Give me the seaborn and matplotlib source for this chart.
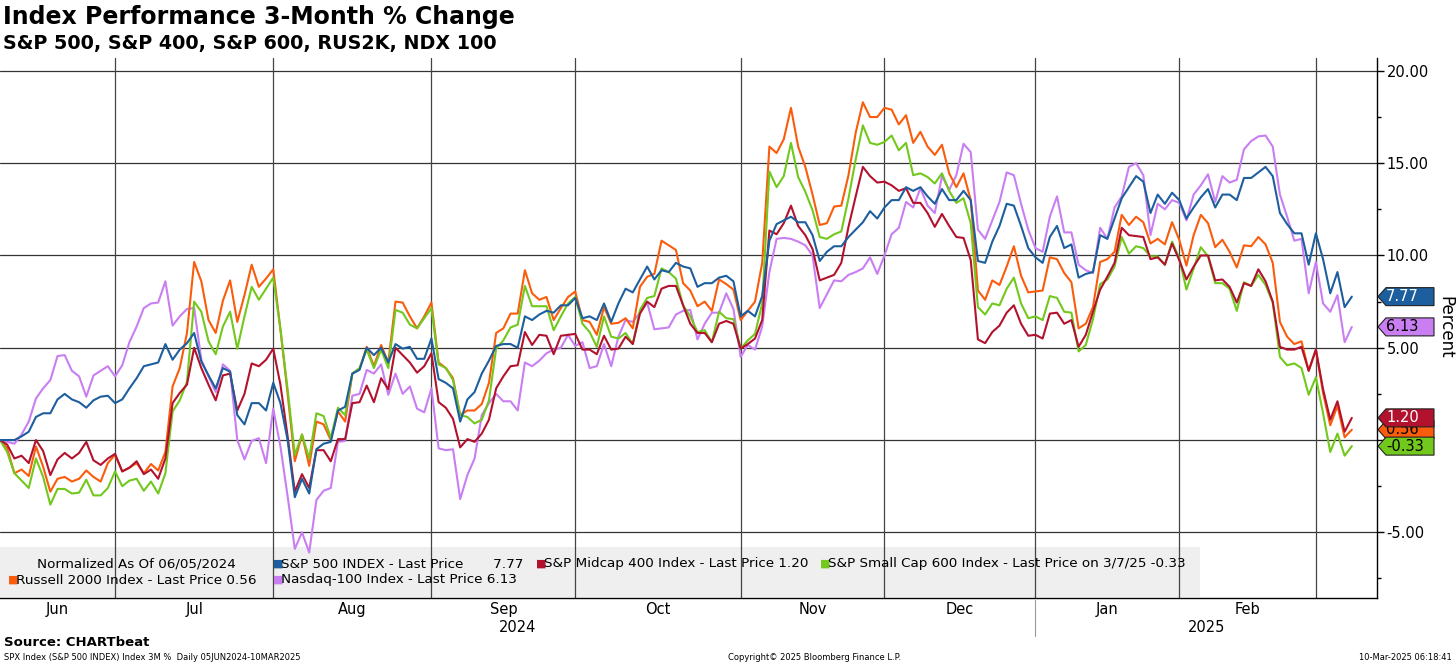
import numpy as np
import pandas as pd
import matplotlib
matplotlib.use('Agg')
import matplotlib.pyplot as plt
import seaborn as sns
from matplotlib.patches import Polygon, Rectangle

# trading days per month shown (Jun 5 2024 .. Mar 7 2025)
months = ['Jun', 'Jul', 'Aug', 'Sep', 'Oct', 'Nov', 'Dec', 'Jan', 'Feb', 'Mar']
days_in_month = [17, 22, 22, 20, 23, 20, 21, 20, 19, 5]
years = ['2024', '2025']

spx = [0.0, 0.0, 0.0, 0.2, 0.45, 1.25, 1.45, 1.45, 2.2, 2.5,
       2.2, 2.05, 1.75, 2.15, 2.35, 2.4, 2.0, 2.2, 2.8, 3.35,
       4.0, 4.1, 4.2, 5.2, 4.35, 4.9, 5.25, 5.8, 4.25, 3.5,
       2.8, 3.9, 3.7, 1.35, 0.85, 2.0, 2.0, 1.6, 3.1, 2.0,
       0.0, -3.1, -2.1, -2.9, -0.5, -0.2, -0.1, 1.6, 1.8, 3.6,
       3.8, 5.0, 4.6, 5.0, 4.2, 5.2, 4.95, 5.05, 4.4, 4.4,
       5.5, 3.3, 3.1, 2.8, 1.0, 2.2, 2.6, 3.6, 4.3, 5.1,
       5.2, 5.2, 5.0, 6.7, 6.5, 6.8, 7.0, 6.9, 7.3, 7.3,
       7.7, 6.6, 6.7, 6.5, 7.4, 6.4, 7.4, 8.2, 8.0, 8.7,
       9.4, 8.7, 9.2, 9.1, 9.6, 9.4, 9.3, 8.3, 8.5, 8.5,
       8.8, 8.9, 8.6, 6.7, 7.0, 6.7, 7.8, 10.8, 11.7, 11.9,
       12.1, 11.8, 11.8, 11.1, 9.7, 10.2, 10.5, 10.5, 11.0, 11.4,
       11.8, 12.4, 12.0, 12.6, 13.0, 13.0, 13.7, 13.5, 13.7, 13.2,
       12.8, 13.6, 13.0, 13.0, 13.5, 13.0, 9.7, 9.6, 10.75, 11.6,
       12.8, 12.7, 11.6, 10.4, 9.9, 9.6, 11.0, 11.6, 10.4, 10.6,
       8.8, 9.0, 9.1, 11.1, 10.9, 12.0, 13.1, 13.7, 14.3, 14.0,
       12.3, 13.3, 12.8, 13.4, 13.0, 12.0, 12.6, 13.15, 13.6, 12.6,
       13.3, 13.3, 13.0, 14.2, 14.2, 14.5, 14.8, 14.3, 12.3, 11.7,
       11.2, 11.2, 9.5, 11.2, 9.8, 7.95, 9.1, 7.2, 7.77]

mid = [0.0, -0.25, -1.0, -0.85, -1.25, 0.0, -0.6, -1.9, -1.05, -0.7,
       -1.0, -0.7, -0.1, -1.1, -1.35, -1.0, -0.75, -1.7, -1.5, -1.15,
       -1.85, -1.6, -2.1, -1.0, 2.0, 2.55, 3.0, 5.0, 3.9, 3.0,
       2.15, 3.5, 3.6, 1.6, 2.5, 4.15, 4.0, 4.35, 4.95, 3.0,
       0.2, -2.8, -1.85, -2.6, -0.55, -0.55, -1.15, 0.05, 0.05, 2.0,
       2.05, 2.95, 2.05, 3.35, 2.75, 5.0, 4.6, 4.2, 3.65, 4.0,
       4.7, 2.05, 1.75, 1.15, -0.4, 0.05, -0.1, 0.35, 1.1, 2.8,
       3.45, 4.0, 4.05, 5.85, 5.15, 5.7, 5.65, 4.65, 5.65, 5.7,
       5.75, 4.9, 4.9, 4.65, 5.65, 4.9, 4.95, 5.6, 5.2, 6.85,
       7.5, 7.2, 8.2, 8.35, 8.35, 7.3, 6.3, 5.8, 5.8, 5.3,
       6.3, 6.45, 6.3, 4.95, 5.2, 5.5, 6.5, 11.35, 11.15, 11.75,
       12.7, 11.6, 11.1, 10.35, 8.65, 8.8, 8.95, 9.6, 11.55, 13.2,
       14.8, 14.3, 13.95, 14.0, 13.8, 13.5, 13.65, 12.85, 12.85, 12.3,
       11.55, 12.25, 11.6, 11.0, 10.95, 9.75, 5.45, 5.25, 5.85, 6.2,
       6.9, 7.3, 6.3, 5.65, 5.7, 5.5, 6.85, 6.9, 6.3, 6.5,
       5.05, 5.7, 6.95, 8.15, 8.85, 9.6, 11.5, 11.1, 11.05, 11.0,
       9.8, 9.9, 9.5, 10.65, 9.75, 8.7, 9.4, 10.0, 10.0, 8.65,
       8.7, 8.3, 7.45, 8.5, 8.35, 9.25, 8.6, 7.5, 5.05, 4.9,
       4.9, 5.05, 3.75, 4.9, 2.75, 1.1, 2.1, 0.45, 1.2]

small = [0.0, -0.65, -1.8, -2.2, -2.6, -1.0, -2.0, -3.5, -2.65, -2.65,
         -2.9, -2.85, -2.15, -3.0, -3.0, -2.6, -1.7, -2.5, -2.2, -2.1,
         -2.75, -2.25, -2.9, -1.8, 1.55, 2.15, 3.15, 7.5, 6.95, 5.35,
         4.65, 6.15, 6.95, 4.95, 6.7, 8.3, 7.6, 8.2, 8.8, 6.0,
         2.75, -0.8, 0.3, -1.0, 1.45, 1.3, 0.1, 1.75, 1.35, 3.6,
         3.9, 4.9, 3.9, 4.9, 3.9, 7.05, 6.9, 6.25, 6.05, 6.6,
         7.15, 4.1, 3.9, 3.25, 1.35, 1.25, 0.9, 1.1, 2.15, 4.95,
         5.4, 6.1, 6.25, 8.35, 7.25, 7.25, 7.25, 5.95, 6.7, 7.4,
         7.75, 6.3, 5.85, 5.05, 6.7, 5.6, 5.5, 5.8, 5.2, 7.05,
         7.7, 7.8, 9.3, 9.1, 8.75, 7.3, 6.7, 5.85, 5.95, 5.3,
         6.95, 6.6, 6.55, 4.95, 5.4, 5.75, 7.4, 14.55, 13.7, 14.3,
         16.1, 14.25, 13.45, 12.45, 11.0, 10.9, 11.15, 11.3, 13.1, 15.2,
         17.05, 16.1, 16.0, 16.15, 16.5, 15.7, 16.1, 14.35, 14.45, 14.25,
         13.9, 14.45, 13.5, 12.85, 13.1, 11.75, 7.2, 6.8, 7.4, 7.3,
         8.2, 8.8, 7.4, 6.6, 6.7, 6.5, 7.8, 7.7, 6.95, 6.9,
         4.8, 5.15, 6.55, 8.45, 8.7, 9.4, 11.0, 10.1, 10.5, 10.4,
         9.95, 9.95, 9.5, 10.75, 9.85, 8.15, 9.3, 10.45, 9.95, 8.5,
         8.5, 8.2, 7.0, 8.55, 8.35, 8.95, 8.4, 7.45, 4.5, 4.05,
         4.15, 3.9, 2.45, 3.4, 1.45, -0.65, 0.35, -0.85, -0.33]

rty = [0.0, -0.45, -1.8, -1.6, -1.95, -0.35, -1.45, -2.8, -2.1, -2.0,
       -2.25, -2.1, -1.65, -2.0, -2.25, -1.25, -0.8, -1.7, -1.5, -1.25,
       -1.8, -1.3, -1.65, -0.65, 2.9, 3.9, 5.8, 9.65, 8.6, 6.5,
       5.8, 7.55, 8.65, 6.4, 7.85, 9.5, 8.3, 8.75, 9.25, 6.0,
       2.5, -1.15, 0.3, -1.4, 1.0, 0.85, 0.0, 1.55, 1.0, 3.6,
       3.85, 5.05, 4.0, 5.15, 4.2, 7.5, 7.45, 6.7, 6.05, 6.7,
       7.45, 4.2, 3.9, 3.35, 1.35, 1.6, 1.6, 1.95, 3.1, 5.8,
       6.05, 6.85, 6.85, 9.2, 7.95, 7.6, 7.75, 6.5, 7.15, 7.75,
       8.05, 6.5, 6.4, 5.7, 7.2, 6.3, 6.35, 6.6, 6.05, 8.3,
       8.85, 9.0, 10.8, 10.55, 10.3, 8.5, 8.1, 7.25, 7.5, 7.0,
       8.7, 8.45, 8.15, 6.5, 7.0, 7.5, 9.6, 15.9, 15.55, 16.3,
       18.0, 15.9, 14.8, 13.3, 11.65, 11.75, 12.65, 12.7, 14.35, 16.65,
       18.3, 17.5, 17.5, 18.0, 17.9, 17.1, 17.6, 16.1, 16.7, 15.9,
       15.45, 16.0, 14.45, 13.7, 14.45, 13.0, 8.1, 7.6, 8.65, 8.4,
       9.4, 10.5, 8.9, 8.0, 8.05, 8.1, 9.9, 9.8, 9.05, 8.55,
       6.05, 6.3, 7.2, 9.65, 9.8, 10.2, 12.2, 11.65, 12.1, 11.8,
       10.65, 10.9, 10.6, 11.8, 10.85, 9.45, 11.1, 12.2, 11.75, 10.45,
       10.85, 10.2, 9.35, 10.55, 10.5, 11.0, 10.6, 9.6, 6.4, 5.6,
       5.2, 5.35, 3.75, 4.9, 2.55, 0.8, 1.85, 0.15, 0.56]

ndx = [0.0, -0.1, -0.2, 0.3, 1.0, 2.25, 2.8, 3.25, 4.55, 4.6,
       3.75, 3.45, 2.35, 3.5, 3.75, 4.0, 3.45, 4.05, 5.3, 6.15,
       7.15, 7.4, 7.45, 8.6, 6.2, 6.7, 7.1, 7.15, 4.35, 3.45,
       2.6, 4.1, 3.75, 0.0, -1.05, -0.05, 0.1, -1.25, 1.7, -0.35,
       -3.05, -5.9, -5.0, -6.1, -3.25, -2.75, -2.6, -0.1, -0.05, 2.4,
       2.5, 3.8, 3.6, 4.1, 2.45, 3.6, 2.5, 2.9, 1.7, 1.5,
       2.8, -0.45, -0.55, -0.5, -3.2, -1.9, -1.0, 1.35, 2.0, 2.5,
       2.1, 2.1, 1.6, 4.2, 4.0, 4.3, 4.7, 4.9, 5.0, 5.7,
       5.1, 5.3, 3.9, 4.0, 5.2, 4.0, 5.6, 6.5, 6.4, 6.9,
       7.45, 6.0, 6.05, 6.1, 6.8, 7.0, 7.05, 5.45, 6.3, 6.9,
       6.9, 7.95, 7.1, 4.5, 5.15, 4.9, 6.15, 9.1, 10.9, 10.95,
       10.9, 10.75, 10.55, 10.0, 7.15, 7.9, 8.65, 8.6, 8.95, 9.1,
       9.3, 9.9, 9.0, 10.0, 11.15, 11.5, 12.9, 12.6, 13.65, 12.7,
       12.3, 14.3, 13.55, 14.35, 16.05, 15.6, 11.4, 10.9, 11.9, 12.9,
       14.5, 14.35, 12.8, 11.4, 10.4, 10.2, 12.1, 13.2, 11.25, 11.25,
       9.5, 9.2, 9.05, 11.5, 10.9, 12.6, 13.2, 14.8, 15.0, 14.35,
       11.1, 12.8, 12.5, 13.0, 12.85, 11.9, 13.3, 13.8, 14.4, 12.9,
       14.3, 13.95, 14.1, 15.75, 16.2, 16.45, 16.5, 15.9, 13.3, 12.1,
       10.8, 10.9, 7.95, 9.65, 7.4, 6.95, 7.85, 5.3, 6.13]

names = ['S&P 500 INDEX', 'S&P Midcap 400 Index', 'S&P Small Cap 600 Index',
         'Russell 2000 Index', 'Nasdaq-100 Index']
values = [spx, mid, small, rty, ndx]
colors = {'S&P 500 INDEX': '#1d5f9e', 'S&P Midcap 400 Index': '#b3122e',
          'S&P Small Cap 600 Index': '#72c81c', 'Russell 2000 Index': '#fa5c0c',
          'Nasdaq-100 Index': '#c97ef2'}
tag_text = {'S&P 500 INDEX': 'white', 'S&P Midcap 400 Index': 'white',
            'S&P Small Cap 600 Index': 'black', 'Russell 2000 Index': 'black',
            'Nasdaq-100 Index': 'black'}

W, H = 1456, 665


def fx(px):
    return px / W


def fy(py):
    return 1 - py / H


frames = []
for name, vals in zip(names, values):
    frames.append(pd.DataFrame({'day': np.arange(len(vals)), 'pct': vals, 'index': name}))
df = pd.concat(frames, ignore_index=True)

sns.set_style('white')
plt.rcParams['font.family'] = ['DejaVu Sans']
plt.rcParams['text.color'] = 'black'
plt.rcParams['xtick.color'] = 'black'
plt.rcParams['ytick.color'] = 'black'

fig = plt.figure(figsize=(W / 100, H / 100), dpi=100)
ax = fig.add_axes([0, 67 / H, 1377 / W, 540 / H])

YMIN, YMAX = -8.56, 20.7
XMAX = 191.5
ax.set_xlim(0, XMAX)
ax.set_ylim(YMIN, YMAX)

# legend panel behind the lines
ax.add_patch(Rectangle((0, 0.002), 1200 / 1377, 0.092, transform=ax.transAxes,
                       facecolor='#efefef', edgecolor='none', zorder=0.5))

bounds = list(np.cumsum(days_in_month) - 1)[:-1]
for v in range(-5, 21, 5):
    ax.axhline(v, color='#333333', lw=0.9, zorder=1)
for b in bounds:
    ax.axvline(b, color='#444444', lw=0.9, zorder=1)

draw_order = ['Nasdaq-100 Index', 'Russell 2000 Index', 'S&P Small Cap 600 Index',
              'S&P Midcap 400 Index', 'S&P 500 INDEX']
sns.lineplot(data=df, x='day', y='pct', hue='index', hue_order=draw_order,
             palette=colors, linewidth=1.5, legend=False, ax=ax, zorder=3)

for s in ['left', 'top']:
    ax.spines[s].set_visible(False)
for s in ['right', 'bottom']:
    ax.spines[s].set_color('black')
    ax.spines[s].set_linewidth(1)

ax.yaxis.tick_right()
ax.set_yticks(range(-5, 21, 5))
ax.set_yticklabels([f'{v:.2f}' for v in range(-5, 21, 5)])
ax.set_yticks(np.arange(-7.5, 20, 5), minor=True)
ax.tick_params(axis='y', which='major', length=5, width=1, direction='out',
               labelsize=10.5, pad=2, color='black', labelcolor='black')
ax.tick_params(axis='y', which='minor', length=3, width=1, direction='out', color='black')

edges = [0] + bounds + [XMAX]
mids = [(edges[i] + edges[i + 1]) / 2 for i in range(len(months) - 1)]
ax.set_xticks(mids)
ax.set_xticklabels(months[:-1])
ax.tick_params(axis='x', length=0, labelsize=10.5, pad=3, labelcolor='black')
ax.set_xlabel('')
ax.set_ylabel('')

xt = ax.get_xaxis_transform()
split = bounds[6]
ax.text(split / 2, -0.054, years[0], transform=xt, ha='center', va='center', fontsize=10.5)
ax.text((split + XMAX) / 2, -0.054, years[1], transform=xt, ha='center', va='center', fontsize=10.5)
ax.plot([split, split], [-0.004, -0.07], transform=xt, color='#999999', lw=0.8, clip_on=False)

# last value tags on the right axis
yt = ax.get_yaxis_transform()
hh = 9 * (YMAX - YMIN) / 540
tip, body, right = 1378 / 1377, 1386 / 1377, 1434 / 1377
tag_order = ['S&P 500 INDEX', 'Nasdaq-100 Index', 'Russell 2000 Index',
             'S&P Midcap 400 Index', 'S&P Small Cap 600 Index']
last = {n: v[-1] for n, v in zip(names, values)}
for z, n in enumerate(tag_order):
    v = last[n]
    poly = Polygon([(tip, v), (body, v + hh), (right, v + hh), (right, v - hh), (body, v - hh)],
                   closed=True, transform=yt, facecolor=colors[n], edgecolor='#222222',
                   lw=0.8, clip_on=False, zorder=10 + 2 * z)
    ax.add_patch(poly)
    ax.text(body, v, f'{v:.2f}', transform=yt, ha='left', va='center', fontsize=10.5,
            color=tag_text[n], clip_on=False, zorder=11 + 2 * z)

fig.text(fx(1445), fy(327), 'Percent', rotation=270, ha='center', va='center', fontsize=12)

# titles
fig.text(fx(3), fy(17), 'Index Performance 3-Month % Change', fontsize=17, fontweight='bold',
         ha='left', va='center')
fig.text(fx(3), fy(43), 'S&P 500, S&P 400, S&P 600, RUS2K, NDX 100', fontsize=13.8,
         fontweight='bold', ha='left', va='center')

# legend text
fs = 9.7
fig.text(fx(37), fy(564), 'Normalized As Of 06/05/2024', fontsize=fs, ha='left', va='center')
legend_rows = [
    (273, 564, 'S&P 500 INDEX', 'S&P 500 INDEX - Last Price       7.77'),
    (536, 564, 'S&P Midcap 400 Index', 'S&P Midcap 400 Index - Last Price 1.20'),
    (820, 564, 'S&P Small Cap 600 Index', 'S&P Small Cap 600 Index - Last Price on 3/7/25 -0.33'),
    (8, 580, 'Russell 2000 Index', 'Russell 2000 Index - Last Price 0.56'),
    (273, 580, 'Nasdaq-100 Index', 'Nasdaq-100 Index - Last Price 6.13'),
]
for x0, y0, n, label in legend_rows:
    fig.text(fx(x0), fy(y0), '\u25A0', color=colors[n], fontsize=8, ha='left', va='center')
    fig.text(fx(x0 + 8), fy(y0), label, fontsize=fs, ha='left', va='center')

# footer
fig.text(fx(4), fy(643), 'Source: CHARTbeat', fontsize=9.5, fontweight='bold', ha='left', va='center')
fig.text(fx(4), fy(658), 'SPX Index (S&P 500 INDEX) Index 3M %  Daily 05JUN2024-10MAR2025',
         fontsize=6, ha='left', va='center')
fig.text(fx(815), fy(658), 'Copyright\u00a9 2025 Bloomberg Finance L.P.', fontsize=6,
         ha='center', va='center')
fig.text(fx(1452), fy(658), '10-Mar-2025 06:18:41', fontsize=6, ha='right', va='center')

fig.savefig('out.png', dpi=100)
